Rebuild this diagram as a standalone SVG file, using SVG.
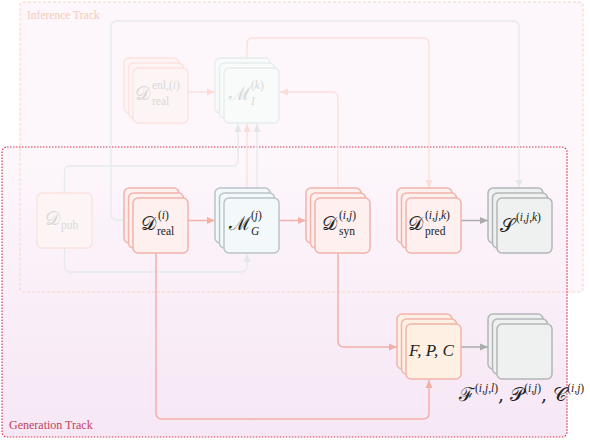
<svg xmlns="http://www.w3.org/2000/svg" width="590" height="440" viewBox="0 0 590 440">
<style>
.lab{font-family:"Liberation Serif","DejaVu Serif",serif;font-size:11.5px}
.big{font-family:"DejaVu Serif","Liberation Serif",serif;font-size:19px;font-style:normal}
.s{font-family:"Liberation Serif","DejaVu Serif",serif;font-size:11.5px;font-style:normal}
.it{font-style:italic}
.dark{fill:#222}
.fade{fill:#d8d8d8}
.rN{fill:#fdf0ef;stroke:#f2b3ab;stroke-width:1.5}
.bN{fill:#f3f9fa;stroke:#b9c3ca;stroke-width:1.5}
.gN{fill:#eff0f0;stroke:#b3b6b8;stroke-width:1.5}
.oN{fill:#fef1e3;stroke:#f2b3ab;stroke-width:1.5}
.frN{fill:#fdf5f5;stroke:#fbe2de;stroke-width:1.3}
.fbN{fill:#f9fbfb;stroke:#e5ecec;stroke-width:1.3}
.c{fill:none;stroke-width:1.5}
.cr{stroke:#f2b0a8}
.cg{stroke:#a9abad}
.cfr{stroke:#fbe0dc;stroke-width:1.3}
.cfg{stroke:#e6eaea;stroke-width:1.3}
</style>
<defs>
<linearGradient id="gg" x1="0" y1="0" x2="0" y2="1">
<stop offset="0" stop-color="#fdf7fb"/>
<stop offset="1" stop-color="#f6e7f5"/>
</linearGradient>
<marker id="aR" markerUnits="userSpaceOnUse" markerWidth="9" markerHeight="8" refX="8" refY="4" orient="auto"><path d="M0,0.5 L8,4 L0,7.5 z" fill="#f2b0a8"/></marker>
<marker id="aG" markerUnits="userSpaceOnUse" markerWidth="9" markerHeight="8" refX="8" refY="4" orient="auto"><path d="M0,0.5 L8,4 L0,7.5 z" fill="#a9abad"/></marker>
<marker id="aFR" markerUnits="userSpaceOnUse" markerWidth="9" markerHeight="8" refX="8" refY="4" orient="auto"><path d="M0,0.5 L8,4 L0,7.5 z" fill="#fbdcd6"/></marker>
<marker id="aFG" markerUnits="userSpaceOnUse" markerWidth="9" markerHeight="8" refX="8" refY="4" orient="auto"><path d="M0,0.5 L8,4 L0,7.5 z" fill="#e2e7e7"/></marker>
</defs>

<g id="tracks">
<rect x="20" y="2" width="563" height="290" rx="3" fill="#fdf6fa"/>
<rect x="2" y="147" width="565" height="290" rx="5" fill="url(#gg)"/>
<rect x="20" y="2" width="563" height="290" rx="3" fill="none" stroke="#f8d2c4" stroke-width="1" stroke-dasharray="3 2"/>
<rect x="2" y="147" width="565" height="290" rx="5" fill="none" stroke="#d2374f" stroke-width="1.2" stroke-dasharray="1.5 1.5"/>
<text x="27" y="19" class="lab" fill="#f6cbbb">Inference Track</text>
<text x="9" y="429" class="lab" fill="#c8405a" style="font-size:12px">Generation Track</text>
</g>

<g id="connectors">
<path class="c cfg" d="M124,220 H117 Q111,220 111,214 V27 Q111,21 117,21 H513 Q519,21 519,27 V188" marker-end="url(#aFG)"/>
<path class="c cfr" d="M247,58 V44 Q247,38 253,38 H423 Q429,38 429,44 V188" marker-end="url(#aFR)"/>
<path class="c cfr" d="M338,188 V98 Q338,92 332,92 H280" marker-end="url(#aFR)"/>
<path class="c cfr" d="M188,92 H215" marker-end="url(#aFR)"/>
<path class="c cfg" d="M64.5,193 V172 Q64.5,166 70.5,166 H232 Q238,166 238,160 V124" marker-end="url(#aFG)"/>
<path class="c cfr" d="M247,188 V124" marker-end="url(#aFR)"/>
<path class="c cfg" d="M257,188 V124" marker-end="url(#aFG)"/>
<path class="c cfg" d="M64.5,248 V266 Q64.5,272 70.5,272 H241 Q247,272 247,266 V254" marker-end="url(#aFG)"/>
<path class="c cr" d="M188,220.5 H215" marker-end="url(#aR)"/>
<path class="c cr" d="M279,220.5 H306" marker-end="url(#aR)"/>
<path class="c cg" d="M461,220.5 H488" marker-end="url(#aG)"/>
<path class="c cr" d="M338,252 V341 Q338,347 344,347 H397" marker-end="url(#aR)"/>
<path class="c cr" d="M156,252 V413 Q156,419 162,419 H423 Q429,419 429,413 V380" marker-end="url(#aR)"/>
<path class="c cg" d="M461,347 H488" marker-end="url(#aG)"/>
</g>

<g id="n-dpub">
<rect class="frN" x="37" y="193" width="55" height="55" rx="5"/>
<text class="big fade" x="45" y="225">𝒟</text><text class="s fade" x="61" y="229">pub</text>
</g>

<g id="n-denl">
<rect class="frN" x="124" y="58" width="55" height="55" rx="5"/>
<rect class="frN" x="128.5" y="63" width="55" height="55" rx="5"/>
<rect class="frN" x="133" y="68" width="55" height="55" rx="5"/>
<text class="big fade" x="135" y="100">𝒟</text>
<text class="s fade" x="152" y="89">enl,(<tspan class="it">i</tspan>)</text>
<text class="s fade" x="152" y="105">real</text>
</g>

<g id="n-mi">
<rect class="fbN" x="215" y="58" width="55" height="55" rx="5"/>
<rect class="fbN" x="219.5" y="63" width="55" height="55" rx="5"/>
<rect class="fbN" x="224" y="68" width="55" height="55" rx="5"/>
<text class="big fade" x="229" y="100">ℳ</text>
<text class="s fade" x="251" y="89">(<tspan class="it">k</tspan>)</text>
<text class="s fade it" x="251" y="105">I</text>
</g>

<g id="n-dreal">
<rect class="rN" x="124" y="188" width="55" height="55" rx="5"/>
<rect class="rN" x="128.5" y="193" width="55" height="55" rx="5"/>
<rect class="rN" x="133" y="198" width="55" height="55" rx="5"/>
<text class="big dark" x="141" y="230">𝒟</text>
<text class="s dark" x="158" y="219">(<tspan class="it">i</tspan>)</text>
<text class="s dark" x="157" y="235">real</text>
</g>

<g id="n-mg">
<rect class="bN" x="215" y="188" width="55" height="55" rx="5"/>
<rect class="bN" x="219.5" y="193" width="55" height="55" rx="5"/>
<rect class="bN" x="224" y="198" width="55" height="55" rx="5"/>
<text class="big dark" x="229" y="230">ℳ</text>
<text class="s dark" x="251" y="219">(<tspan class="it">j</tspan>)</text>
<text class="s dark it" x="251" y="235">G</text>
</g>

<g id="n-dsyn">
<rect class="rN" x="306" y="188" width="55" height="55" rx="5"/>
<rect class="rN" x="310.5" y="193" width="55" height="55" rx="5"/>
<rect class="rN" x="315" y="198" width="55" height="55" rx="5"/>
<text class="big dark" x="322" y="230">𝒟</text>
<text class="s dark" x="339" y="219">(<tspan class="it">i</tspan>,<tspan class="it">j</tspan>)</text>
<text class="s dark" x="339" y="235">syn</text>
</g>

<g id="n-dpred">
<rect class="rN" x="397" y="188" width="55" height="55" rx="5"/>
<rect class="rN" x="401.5" y="193" width="55" height="55" rx="5"/>
<rect class="rN" x="406" y="198" width="55" height="55" rx="5"/>
<text class="big dark" x="408" y="230">𝒟</text>
<text class="s dark" x="425" y="219">(<tspan class="it">i</tspan>,<tspan class="it">j</tspan>,<tspan class="it">k</tspan>)</text>
<text class="s dark" x="425" y="235">pred</text>
</g>

<g id="n-s">
<rect class="gN" x="488" y="188" width="55" height="55" rx="5"/>
<rect class="gN" x="492.5" y="193" width="55" height="55" rx="5"/>
<rect class="gN" x="497" y="198" width="55" height="55" rx="5"/>
<text class="big dark" x="500" y="232">𝒮</text>
<text class="s dark" x="516" y="221">(<tspan class="it">i</tspan>,<tspan class="it">j</tspan>,<tspan class="it">k</tspan>)</text>
</g>

<g id="n-fpc">
<rect class="oN" x="397" y="314" width="55" height="55" rx="5"/>
<rect class="oN" x="401.5" y="319" width="55" height="55" rx="5"/>
<rect class="oN" x="406" y="324" width="55" height="55" rx="5"/>
<text class="dark" x="409" y="356" style="font-family:'Liberation Serif',serif;font-size:17px;font-style:italic">F, P, C</text>
</g>

<g id="n-out">
<rect class="gN" x="488" y="314" width="55" height="55" rx="5"/>
<rect class="gN" x="492.5" y="319" width="55" height="55" rx="5"/>
<rect class="gN" x="497" y="324" width="55" height="55" rx="5"/>
<text class="big dark" x="459" y="401">ℱ<tspan class="s" dy="-9">(<tspan class="it">i</tspan>,<tspan class="it">j</tspan>,<tspan class="it">l</tspan>)</tspan><tspan dy="9">, </tspan>𝒫<tspan class="s" dy="-9">(<tspan class="it">i</tspan>,<tspan class="it">j</tspan>)</tspan><tspan dy="9">, </tspan>𝒞<tspan class="s" dy="-9">(<tspan class="it">i</tspan>,<tspan class="it">j</tspan>)</tspan></text>
</g>
</svg>
